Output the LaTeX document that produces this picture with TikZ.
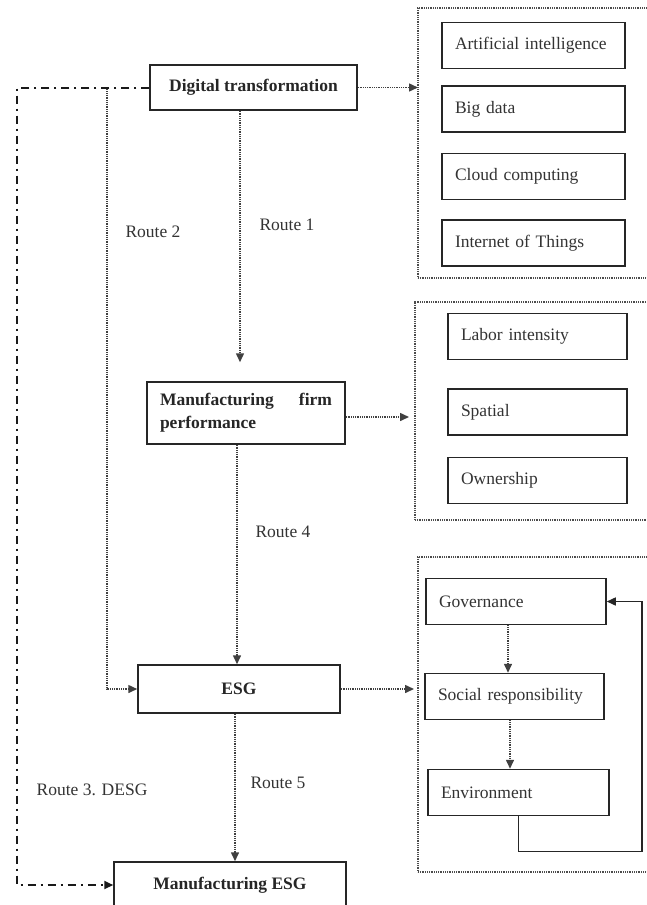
\documentclass[tikz,border=0pt]{standalone}
\usepackage{fontspec}
\setmainfont{Liberation Serif}
\usetikzlibrary{positioning,arrows.meta,calc}

\begin{document}
\begin{tikzpicture}[x=1pt,y=-1pt,
    box/.style={rectangle,draw=black!85,line width=1.5pt,minimum height=45pt,text=black!85,font=\fontsize{17.5}{23}\selectfont\bfseries},
    item/.style={rectangle,draw=black!85,line width=1.5pt,minimum height=46pt,inner xsep=13pt,text width=154pt,align=left,text=black!80,font=\fontsize{17.5}{21}\selectfont},
    group/.style={rectangle,draw=black!70,line width=1.5pt,dash pattern=on 1pt off 0.8pt,outer sep=0pt},
    arrow/.style={-{Triangle[length=9pt,width=8pt]},draw=black!75,line width=1.5pt,dash pattern=on 1pt off 0.8pt},
    desg/.style={-{Triangle[length=9pt,width=8pt]},draw=black!90,line width=2pt,dash pattern=on 8pt off 5pt on 2pt off 5pt},
    feedback/.style={-{Triangle[length=9pt,width=8pt]},draw=black!85,line width=1.5pt},
    route/.style={text=black!80,font=\fontsize{17.5}{21}\selectfont}
]

\useasboundingbox (0,0) rectangle (646,905);

% Main chain
\node[box,minimum width=207pt] (digital) at (253.5,87.5) {Digital transformation};
\node[box,minimum width=198pt,minimum height=62pt,text width=172pt,align=justify] (firm) at (246,413) {Manufacturing firm performance};
\node[box,minimum width=202pt,minimum height=48pt] (esg) at (239,689) {ESG};
\node[box,minimum width=232pt,minimum height=46pt] (mesg) at (230,885) {Manufacturing ESG};

% Dotted groups on the right
\node[group,minimum width=234pt,minimum height=270pt] (techgroup) at (535,143) {};
\node[group,minimum width=237pt,minimum height=218pt] (firmgroup) at (533.5,411) {};
\node[group,minimum width=234pt,minimum height=315pt] (esggroup) at (535,714.5) {};

% Digital technologies
\foreach \name/\y/\txt in {ai/45.5/Artificial intelligence, bigdata/109/Big data, cloud/176.5/Cloud computing, iot/243/Internet of Things} {
    \node[item,text width=157pt] (\name) at (533.5,\y) {\txt};
}

% Firm characteristics
\foreach \name/\y/\txt in {labor/336.5/Labor intensity, spatial/412/Spatial, owner/480.5/Ownership} {
    \node[item,text width=153pt] (\name) at (537.5,\y) {\txt};
}

% ESG pillars
\node[item] (gov) at (516,601.5) {Governance};
\node[item,text width=153pt] (soc) at (514.5,696.5) {Social responsibility};
\node[item,text width=155pt] (env) at (518.5,792.5) {Environment};

% Route labels
\node[route] (r1) at (287,225) {Route 1};
\node[route] (r2) at (153,232) {Route 2};
\node[route] (r3) at (92,790) {Route 3. DESG};
\node[route] (r4) at (283,532) {Route 4};
\node[route] (r5) at (278,783) {Route 5};

% Routes
\draw[arrow] ($(digital.south)+(-13.5,0)$) -- ($(firm.north)+(-6,-19)$);
\coordinate (split) at (107,87.5);
\draw[arrow] (split) |- (esg.west);
\draw[desg] (digital.west) -- ++(-132,0) |- (mesg.west);
\draw[arrow] ($(firm.south)+(-9,0)$) -- ($(esg.north)+(-2,0)$);
\draw[arrow] ($(esg.south)+(-4,0)$) -- ($(mesg.north)+(5,0)$);

% Links to the groups
\coordinate (firmout) at ($(firm.east)+(0,4)$);
\draw[arrow] (digital.east) -- (digital.east -| techgroup.west);
\draw[arrow,shorten >=6pt] (firmout) -- (firmout -| firmgroup.west);
\draw[arrow,shorten >=4pt] (esg.east) -- (esg.east -| esggroup.west);

% Inside the ESG group
\draw[arrow] ($(gov.south)+(-8,0)$) -- ($(soc.north)+(-6.5,0)$);
\draw[arrow] ($(soc.south)+(-4.5,0)$) -- ($(env.north)+(-8.5,0)$);
\draw[feedback] (env.south) -- ++(0,35) -| ($(gov.east)+(35,0)$) -- (gov.east);

\end{tikzpicture}
\end{document}
